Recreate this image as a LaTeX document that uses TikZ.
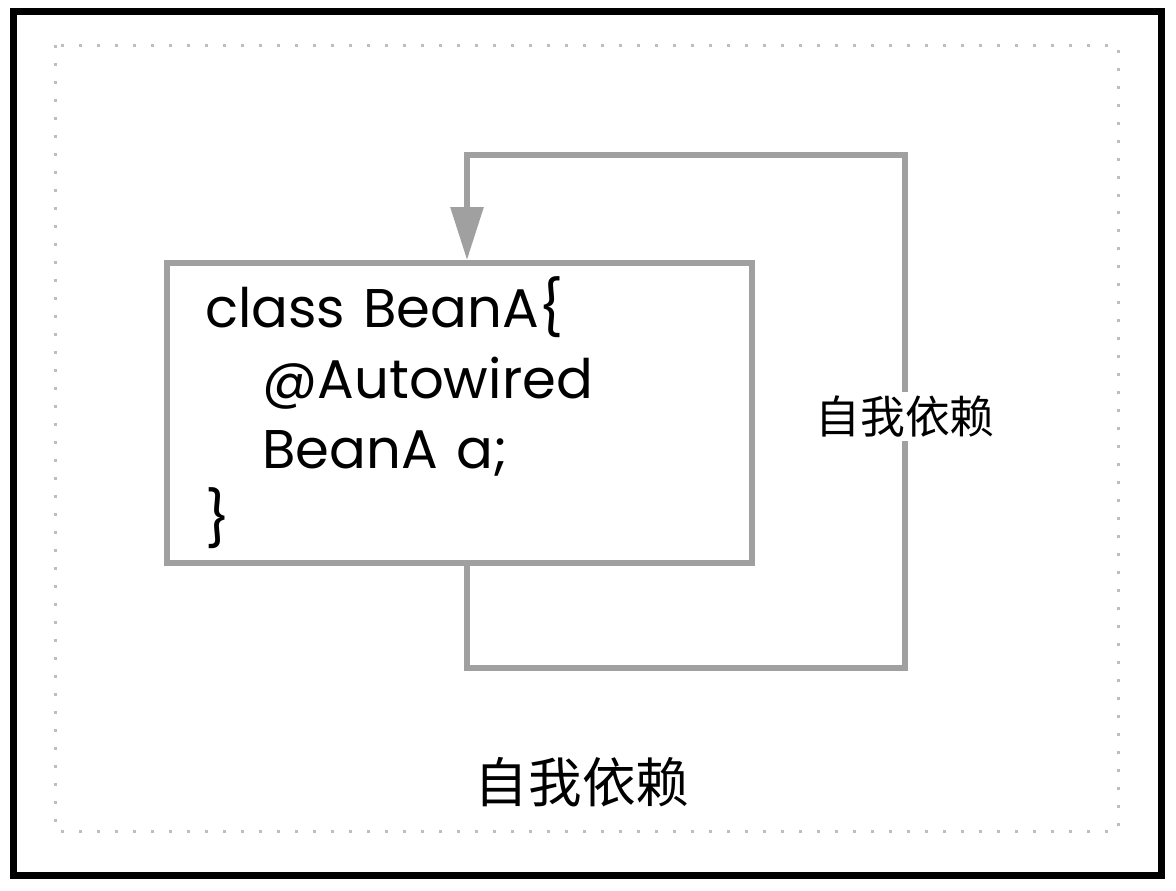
\documentclass[tikz,border=0pt]{standalone}
\usepackage{fontspec}
\setmainfont{Poppins}
\newfontfamily\cjk{Noto Sans CJK SC}
\usetikzlibrary{arrows.meta,positioning}

\definecolor{linegray}{HTML}{A0A0A0}
\definecolor{dotgray}{HTML}{BEBEBE}

\tikzset{
  codebox/.style={draw=linegray, line width=0.12cm, rectangle, align=left,
    minimum width=11.7cm, minimum height=6cm, text width=10.18cm,
    inner xsep=0.76cm, inner ysep=0pt,
    font=\fontsize{31}{40}\selectfont},
  selfloop/.style={draw=linegray, line width=0.12cm,
    -{Triangle[width=0.64cm,length=1.06cm]}},
  looplabel/.style={fill=white, inner sep=2pt, font=\cjk\fontsize{25.5}{28}\selectfont},
  caption/.style={font=\cjk\fontsize{30.5}{34}\selectfont},
}

\begin{document}
\begin{tikzpicture}[x=0.02cm, y=-0.02cm]
  \useasboundingbox (0,0) rectangle (1176,890);

  % frame and dotted group
  \draw[line width=0.14cm] (13.5,11.5) rectangle (1161.5,875);
  \draw[dotgray, line width=0.06cm, dash pattern=on 0.06cm off 0.3cm] (55,45) rectangle (1118,831);

  % the class
  \node[codebox] (beanA) at (459.5,413) {class BeanA\{\\
    \hspace*{1.15cm}@Autowired\\
    \hspace*{1.15cm}BeanA a;\\
  \}};

  % loop back into itself
  \coordinate (lb) at (467,668);
  \coordinate (rb) at (905,668);
  \coordinate (rt) at (905,155);
  \coordinate (lt) at (467,155);
  \draw[selfloop] (beanA.south -| lb) -- (lb) -- (rb)
    -- node[looplabel, pos=0.49] (selfLbl) {自我依赖} (rt)
    -- (lt) -- (beanA.north -| lt);

  \node[caption] (title) at (582,782) {自我依赖};
\end{tikzpicture}
\end{document}
